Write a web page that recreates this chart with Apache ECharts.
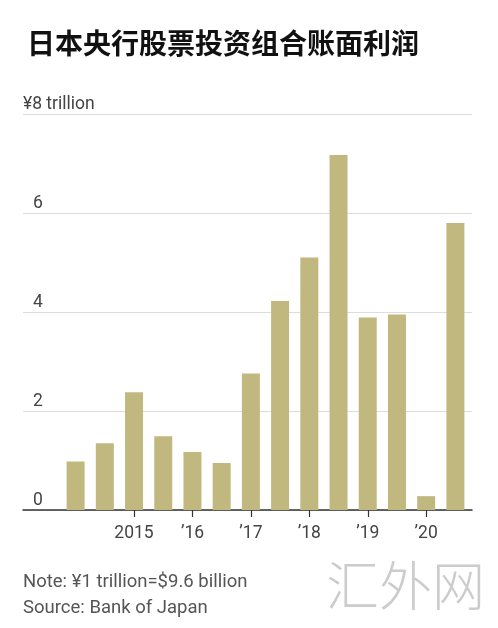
<!DOCTYPE html>
<html>
<head>
<meta charset="utf-8">
<script src="https://cdn.jsdelivr.net/npm/echarts@6/dist/echarts.min.js"></script>
<style>
  html, body { margin: 0; padding: 0; background: #fff; }
  #chart { width: 498px; height: 628px; }
</style>
</head>
<body>
<div id="chart"></div>
<script>
// half-year periods, labelled once a year
const tickLabels = ['', '', '2015', '', '\u201916', '', '\u201917', '', '\u201918', '', '\u201919', '', '\u201920', ''];
const profits = [0.98, 1.35, 2.38, 1.49, 1.17, 0.95, 2.76, 4.22, 5.1, 7.17, 3.89, 3.95, 0.28, 5.8];
const yTicks = [0, 2, 4, 6, 8];

const chart = echarts.init(document.getElementById('chart'));
const font = 'Roboto, "Noto Sans", sans-serif';

chart.setOption({
  animation: false,
  grid: [
    { left: 23, right: 26, top: 114, bottom: 118 },
    { left: 61, right: 28, top: 114, bottom: 118 }
  ],
  xAxis: [
    {
      gridIndex: 0, type: 'value', min: 0, max: 1,
      axisLine: { show: true, lineStyle: { color: '#333', width: 1.5 } },
      axisTick: { show: false }, axisLabel: { show: false }, splitLine: { show: false }
    },
    {
      gridIndex: 1, type: 'category', data: tickLabels,
      axisLine: { show: false },
      axisTick: {
        show: true, alignWithLabel: true, length: 7,
        interval: (i) => tickLabels[i] !== '',
        lineStyle: { color: '#333', width: 1.2 }
      },
      axisLabel: {
        interval: (i) => tickLabels[i] !== '',
        margin: 15, fontSize: 17.5, color: '#444', fontFamily: font
      }
    }
  ],
  yAxis: [
    {
      gridIndex: 0, type: 'value', min: yTicks[0], max: yTicks[yTicks.length - 1], interval: 2,
      axisLine: { show: false }, axisTick: { show: false },
      splitLine: { lineStyle: { color: '#dddddd', width: 1 } },
      axisLabel: {
        inside: true, margin: 0, verticalAlign: 'bottom', padding: [0, 0, 0, 0],
        fontSize: 17.5, color: '#444', fontFamily: font,
        formatter: (v) => v === 8 ? '\u00a58 trillion' : '{p|}' + v,
        rich: { p: { width: 10 } }
      }
    },
    {
      gridIndex: 1, type: 'value', min: 0, max: 8, show: false
    }
  ],
  graphic: [
    {
      type: 'text', left: 27, top: 29,
      style: { text: '日本央行股票投资组合账面利润', fontSize: 28, fontWeight: 'bold',
        fontFamily: '"Noto Sans CJK SC"', fill: '#111' }
    },
    {
      type: 'text', left: 23, top: 573,
      style: { text: 'Note: \u00a51 trillion=$9.6 billion', fontSize: 18.5, fontFamily: font, fill: '#555' }
    },
    {
      type: 'text', left: 23, top: 599,
      style: { text: 'Source: Bank of Japan', fontSize: 18.5, fontFamily: font, fill: '#555' }
    },
    {
      type: 'text', left: 326, top: 559,
      style: { text: '汇外网', fontSize: 53, fontWeight: 300, fontFamily: '"Noto Sans CJK SC"', fill: '#cccccc' }
    }
  ],
  series: [
    {
      type: 'bar', xAxisIndex: 1, yAxisIndex: 1,
      data: profits, barWidth: 18,
      itemStyle: { color: '#c0b87f' }
    }
  ]
});
</script>
</body>
</html>
